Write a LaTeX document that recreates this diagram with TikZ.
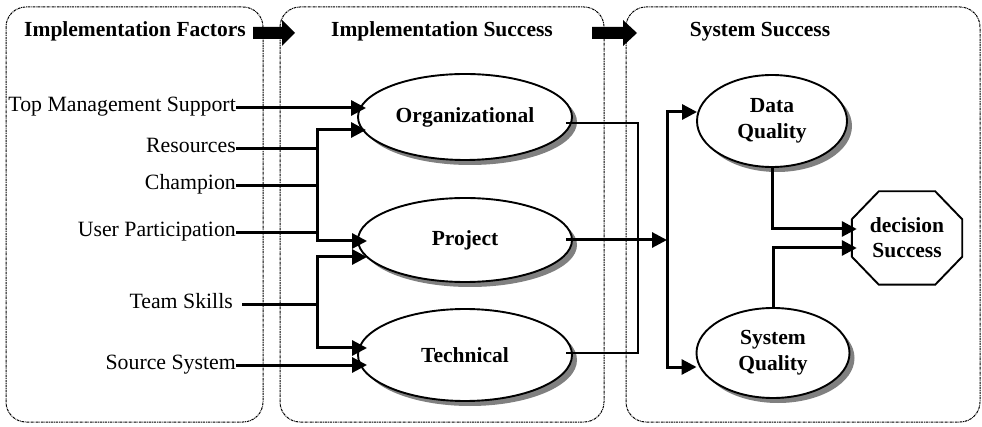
\documentclass[tikz,border=0pt]{standalone}
\usepackage{fontspec}
\setmainfont{Liberation Serif}
\usetikzlibrary{shapes.geometric,shadows,arrows.meta,calc}
\pgfdeclarelayer{background}
\pgfsetlayers{background,main}

\begin{document}
\begin{tikzpicture}[x=1pt,y=-1pt,
  panel/.style={draw=black, line width=1pt,
    dash pattern=on 2.5pt off 0.8pt on 0.8pt off 0.8pt, rounded corners=20pt},
  title/.style={font=\fontsize{21.5}{25}\selectfont\bfseries, anchor=base, inner sep=0pt},
  factor/.style={font=\fontsize{21.8}{25}\selectfont, anchor=east, inner sep=0pt,
    text height=13pt, text depth=5pt},
  oval/.style={ellipse, draw, line width=1.9pt, fill=white, inner sep=0pt,
    font=\fontsize{21.5}{26}\selectfont\bfseries, align=center,
    drop shadow={shadow xshift=5pt, shadow yshift=-5pt, fill=black!50, opacity=1}},
  octlabel/.style={inner sep=0pt, minimum width=110pt, minimum height=93pt,
    font=\fontsize{21.5}{25}\selectfont\bfseries, align=center},
  octshadow/.style={fill=black!50, shift={(5,5)}},
  octface/.style={fill=white, draw, line width=1.9pt},
  link/.style={line width=3pt, -{Triangle[length=15pt,width=15pt]}},
  biarrow/.style={line width=3pt, {Triangle[length=15pt,width=15pt]}-{Triangle[length=15pt,width=15pt]}},
  bar/.style={line width=3pt},
  wire/.style={line width=1.8pt},
]
\useasboundingbox (0,0) rectangle (982,427);

% three stage panels
\draw[panel] (6,7) rectangle (263,422);
\draw[panel] (280,7) rectangle (604,422);
\draw[panel] (626,7) rectangle (980,422);

% block arrows between the stages
\fill (253,27) -- (282,27) -- (282,20) -- (295,33) -- (282,46) -- (282,39) -- (253,39) -- cycle;
\fill (592,27) -- (623,27) -- (623,20) -- (637,33) -- (623,46) -- (623,39) -- (592,39) -- cycle;

% stage titles
\node[title] (t1) at (135,37) {Implementation Factors};
\node[title] (t2) at (442,37) {Implementation Success};
\node[title] (t3) at (760,37) {System Success};

% implementation factors
\node[factor] (tms) at (236,108) {Top Management Support};
\node[factor] (res) at (236,149) {Resources};
\node[factor] (cha) at (236,186) {Champion};
\node[factor] (up)  at (236,233) {User Participation};
\node[factor] (ts)  at (233,305) {Team Skills};
\node[factor] (ss)  at (236,365) {Source System};

% implementation success
\node[oval, minimum width=214pt, minimum height=86pt] (org)  at (465,117) {Organizational};
\node[oval, minimum width=214pt, minimum height=84pt] (proj) at (465,240) {Project};
\node[oval, minimum width=214pt, minimum height=92pt] (tech) at (465,355) {Technical};

% system success
\node[oval, minimum width=150pt, minimum height=92pt] (dq) at (772,121) {Data\\Quality};
\node[oval, minimum width=153pt, minimum height=90pt] (sq) at (773,353) {System\\Quality};
\node[octlabel] (dec) at (907,238) {decision\\Success};

% octagon behind the decision label
\begin{pgfonlayer}{background}
  \path[octshadow]
    ($(dec.north west)+(27,0)$) -- ($(dec.north east)+(-27,0)$)
    -- ($(dec.north east)+(0,28)$) -- ($(dec.south east)+(0,-28)$)
    -- ($(dec.south east)+(-27,0)$) -- ($(dec.south west)+(27,0)$)
    -- ($(dec.south west)+(0,-28)$) -- ($(dec.north west)+(0,28)$) -- cycle;
  \path[octface]
    ($(dec.north west)+(27,0)$) -- ($(dec.north east)+(-27,0)$)
    -- ($(dec.north east)+(0,28)$) -- ($(dec.south east)+(0,-28)$)
    -- ($(dec.south east)+(-27,0)$) -- ($(dec.south west)+(27,0)$)
    -- ($(dec.south west)+(0,-28)$) -- ($(dec.north west)+(0,28)$) -- cycle;
\end{pgfonlayer}

% entry and exit points
\coordinate (orgin)  at ($(org.west)+(9,0)$);
\coordinate (projin) at ($(proj.west)+(10,0)$);
\coordinate (techin) at ($(tech.west)+(10,0)$);
\coordinate (b1top) at (317,130);
\coordinate (b1bot) at (317,241);
\coordinate (b2top) at (317,257);
\coordinate (b2bot) at (317,348);
\coordinate (orgout)  at ($(org.east)+(-7,6)$);
\coordinate (projout) at ($(proj.east)+(-7,0)$);
\coordinate (techout) at ($(tech.east)+(-7,-2)$);
\coordinate (jx) at (638,240);
\coordinate (sx) at (667,240);
\coordinate (dqin) at ($(dq.west)+(1,-9)$);
\coordinate (sqin) at ($(sq.west)+(1,14)$);
\coordinate (decin1) at ($(dec.west)+(5,-9)$);
\coordinate (decin2) at ($(dec.west)+(5,10)$);

% factors to implementation success
\draw[link] (tms.east) -- (tms.east -| orgin);
\draw[bar] (res.east) -- (res.east -| b1top);
\draw[bar] (cha.east) -- (cha.east -| b1top);
\draw[bar] (up.east) -- (up.east -| b1top);
\draw[biarrow] (b1top -| orgin) -- (b1top) -- (b1bot) -- (b1bot -| projin);
\draw[bar] ($(ts.east)+(9,0)$) -- (ts.east -| b2top);
\draw[biarrow] (b2top -| projin) -- (b2top) -- (b2bot) -- (b2bot -| techin);
\draw[link] (ss.east) -- (ss.east -| techin);

% implementation success to system success
\draw[wire] (orgout) -- (orgout -| jx) -- (techout -| jx) -- (techout);
\draw[link] (projout) -- (sx);
\draw[biarrow] (dqin) -- (dqin -| sx) -- (sqin -| sx) -- (sqin);

% system success to decision success
\draw[link] (dq.south) -- (dq.south |- decin1) -- (decin1);
\draw[link] (sq.north) -- (sq.north |- decin2) -- (decin2);
\end{tikzpicture}
\end{document}
